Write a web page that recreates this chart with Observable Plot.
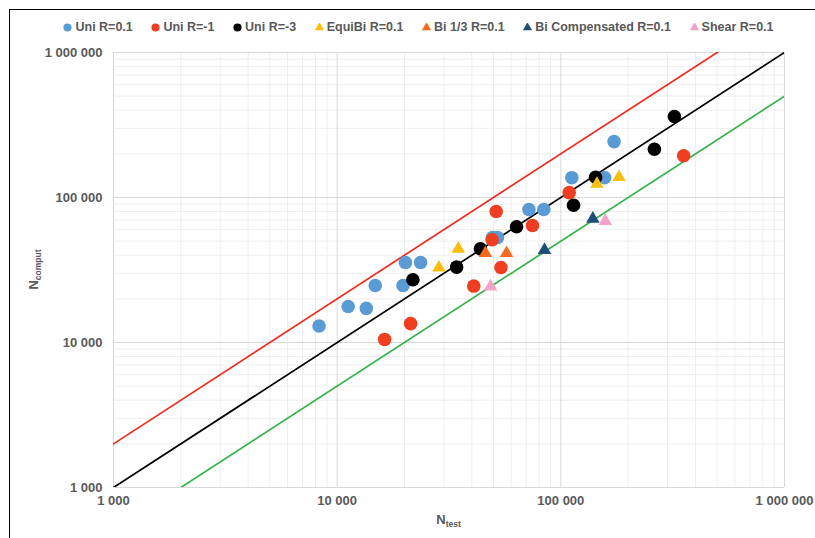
<!DOCTYPE html>
<html>
<head>
<meta charset="utf-8">
<script src="https://cdn.jsdelivr.net/npm/d3@7"></script>
<script src="https://cdn.jsdelivr.net/npm/@observablehq/plot@0.6"></script>
<style>
  html, body { margin: 0; padding: 0; background: #fff; }
  #chart { position: relative; width: 815px; height: 538px; overflow: hidden;
           font-family: "Liberation Sans", Arial, sans-serif; }
  #frame { position: absolute; left: 9px; top: 9px; width: 820px; height: 540px;
           border-top: 1.5px solid #000; border-left: 1.5px solid #000; }
  #legend { position: absolute; left: 11px; top: 19px; width: 815px; height: 16px;
            display: flex; justify-content: center; align-items: center;
            font-size: 12.5px; font-weight: bold; color: #595959; white-space: nowrap; }
  .item { display: flex; align-items: center; margin: 0 9.3px; }
  .item svg { margin-right: 3px; }
  #plot { position: absolute; left: 0; top: 40px; }
</style>
</head>
<body>
<div id="chart">
  <div id="frame"></div>
  <div id="legend"></div>
  <div id="plot"></div>
</div>
<script>
// Number of cycles: test result vs. computed prediction, per loading case
const seriesNames   = ["Uni R=0.1", "Uni R=-1", "Uni R=-3", "EquiBi R=0.1", "Bi 1/3 R=0.1", "Bi Compensated R=0.1", "Shear R=0.1"];
const seriesColors  = ["#5b9bd5", "#ef3e22", "#000000", "#fbbd0f", "#f46b1f", "#1f4e79", "#f4a2c8"];
const seriesSymbols = ["circle", "circle", "circle", "triangle", "triangle", "triangle", "triangle"];

const uni01Test     = [8300, 11200, 13500, 14800, 19700, 20200, 23600, 49500, 52100, 72000, 83900, 112000, 157000, 173000];
const uni01Comput   = [13000, 17700, 17200, 24700, 24700, 35600, 35600, 53000, 53000, 82600, 82600, 137000, 137000, 243000];
const uniM1Test     = [16300, 21300, 40800, 54000, 49300, 51400, 74700, 109000, 354000];
const uniM1Comput   = [10500, 13500, 24500, 32900, 51100, 80000, 64100, 108000, 194000];
const uniM3Test     = [21800, 34200, 43700, 63400, 114000, 143000, 262000, 322000];
const uniM3Comput   = [27100, 33100, 44300, 62800, 88500, 138000, 215000, 362000];
const equiBiTest    = [28500, 34800, 145000, 182000];
const equiBiComput  = [32800, 44300, 124000, 138000];
const bi13Test      = [46000, 57200];
const bi13Comput    = [41300, 41300];
const biCompTest    = [84500, 139000];
const biCompComput  = [43400, 71300];
const shearTest     = [48500, 158000];
const shearComput   = [24300, 68700];

// Scatter bands: N_comput = factor × N_test
const bandFactors = [2, 1, 0.5];
const bandColors  = ["#f02a1e", "#000000", "#35b34a"];

const axisTicks = [1000, 10000, 100000, 1000000];

const testValues   = [uni01Test, uniM1Test, uniM3Test, equiBiTest, bi13Test, biCompTest, shearTest];
const computValues = [uni01Comput, uniM1Comput, uniM3Comput, equiBiComput, bi13Comput, biCompComput, shearComput];

const series = seriesNames.map((name, i) => ({
  name, color: seriesColors[i], symbol: seriesSymbols[i],
  points: testValues[i].map((t, j) => ({test: t, comput: computValues[i][j]}))
}));

const fmt = v => d3.format(",")(v).replace(/,/g, " ");
const gridTicks = d3.scaleLog().domain([1e3, 1e6]).ticks();
const minorTicks = gridTicks.filter(v => !axisTicks.includes(v));

const W = 815, H = 498, mL = 113, mR = 31, mT = 12, mB = 51;

const marks = [
  Plot.ruleX(minorTicks, {stroke: "#eeeeee"}),
  Plot.ruleY(minorTicks, {stroke: "#eeeeee"}),
  Plot.ruleX(axisTicks, {stroke: "#d9d9d9"}),
  Plot.ruleY(axisTicks, {stroke: "#d9d9d9"}),
  ...bandFactors.map((k, i) => Plot.line(
    [axisTicks[0], axisTicks[axisTicks.length - 1]].map(x => ({x, y: k * x})),
    {x: "x", y: "y", stroke: bandColors[i], strokeWidth: 1.7, clip: true}
  )),
  ...series.map(s => Plot.dot(s.points, {
    x: "test", y: "comput", fill: s.color, symbol: s.symbol,
    r: s.symbol === "circle" ? 6.8 : 5
  })),
  Plot.axisX({ticks: axisTicks, tickFormat: fmt, tickSize: 0, tickPadding: 8, label: null}),
  Plot.axisY({ticks: axisTicks, tickFormat: fmt, tickSize: 0, tickPadding: 11, label: null})
];

const chart = Plot.plot({
  width: W, height: H,
  marginTop: mT, marginBottom: mB, marginLeft: mL, marginRight: mR,
  style: {fontFamily: "'Liberation Sans', Arial, sans-serif", fontSize: "13px",
          fontWeight: "bold", color: "#595959", background: "transparent", overflow: "visible"},
  x: {type: "log", domain: [1e3, 1e6]},
  y: {type: "log", domain: [1e3, 1e6]},
  marks
});

// Axis titles with subscripts
const svg = d3.select(chart);
const xt = svg.append("text")
  .attr("x", mL + (W - mL - mR) / 2).attr("y", H - 14)
  .attr("text-anchor", "middle").attr("fill", "#595959")
  .attr("font-size", 13).attr("font-weight", "bold");
xt.append("tspan").text("N");
xt.append("tspan").attr("font-size", 8.5).attr("dy", 3).text("test");

const yt = svg.append("text")
  .attr("transform", `translate(38,${mT + (H - mT - mB) / 2}) rotate(-90)`)
  .attr("text-anchor", "middle").attr("fill", "#595959")
  .attr("font-size", 13).attr("font-weight", "bold");
yt.append("tspan").text("N");
yt.append("tspan").attr("font-size", 8.5).attr("dy", 3).text("comput");

document.getElementById("plot").appendChild(chart);

// Legend
const legend = d3.select("#legend");
series.forEach(s => {
  const item = legend.append("div").attr("class", "item");
  const sym = item.append("svg").attr("width", 9).attr("height", 9).attr("viewBox", "-4.5 -4.5 9 9");
  sym.append("path")
    .attr("d", d3.symbol(s.symbol === "circle" ? d3.symbolCircle : d3.symbolTriangle,
                         s.symbol === "circle" ? 52 : 36)())
    .attr("fill", s.color);
  item.append("span").text(s.name);
});
</script>
</body>
</html>
